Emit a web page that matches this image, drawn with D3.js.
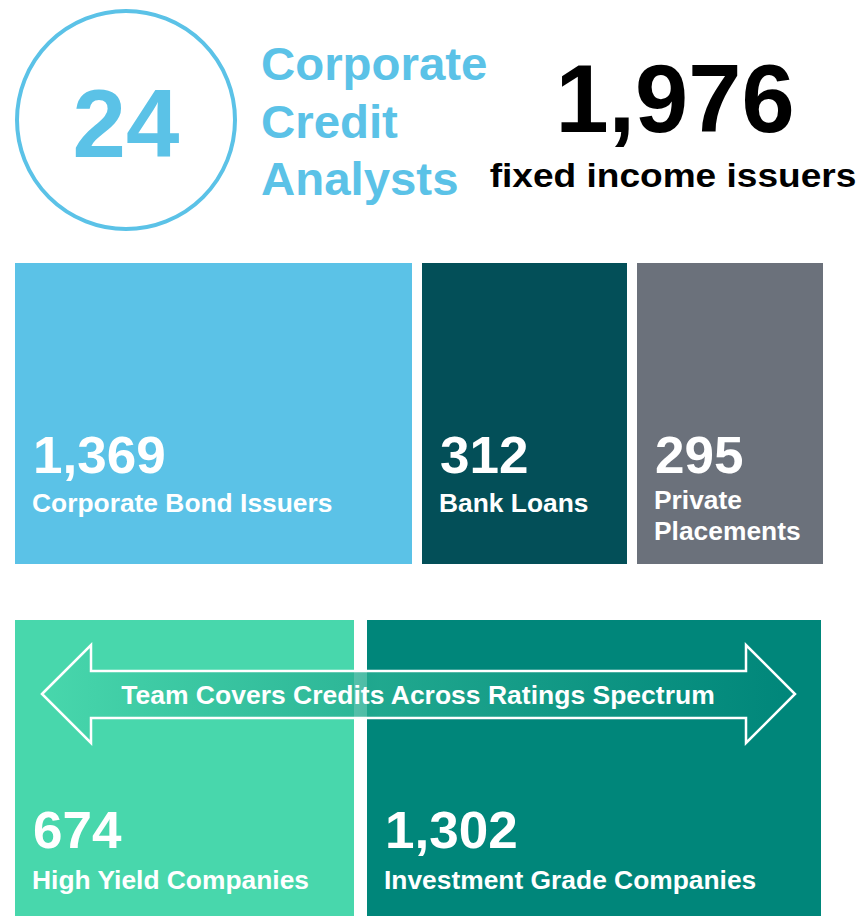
<!DOCTYPE html>
<html>
<head>
<meta charset="utf-8">
<script src="https://cdn.jsdelivr.net/npm/d3@7"></script>
<style>
  body { margin: 0; background: #fff; }
  svg { display: block; font-family: "Liberation Sans", Arial, sans-serif; font-weight: bold; }
</style>
</head>
<body>
<svg id="chart" width="861" height="916"></svg>
<script>
// Headline figures
const analystCount = 24;
const analystLabel = ["Corporate", "Credit", "Analysts"];
const totalIssuers = 1976;
const totalLabel = "fixed income issuers";

// Row 1: issuer types
const typeNames = [["Corporate Bond Issuers"], ["Bank Loans"], ["Private", "Placements"]];
const typeValues = [1369, 312, 295];
const typeColors = ["#5bc2e7", "#034f58", "#6b717b"];

// Row 2: rating split
const ratingNames = ["High Yield Companies", "Investment Grade Companies"];
const ratingValues = [674, 1302];
const ratingColors = ["#48d7ac", "#00867a"];
const arrowText = "Team Covers Credits Across Ratings Spectrum";

const fmt = d3.format(",");
const svg = d3.select("#chart");

// the original typeface is a bit wider than Liberation Sans, so stretch text horizontally
function widen(sel, k) {
    sel.each(function () {
        const w = this.getComputedTextLength();
        d3.select(this).attr("textLength", w * k).attr("lengthAdjust", "spacingAndGlyphs");
    });
}

// --- header ---------------------------------------------------------
svg.append("circle")
    .attr("cx", 126).attr("cy", 120).attr("r", 109)
    .attr("fill", "none").attr("stroke", "#5bc2e7").attr("stroke-width", 4);

svg.append("text")
    .attr("x", 126).attr("y", 157)
    .attr("text-anchor", "middle")
    .attr("font-size", 96).attr("fill", "#5bc2e7")
    .text(analystCount);

svg.append("g").selectAll("text")
    .data(analystLabel)
    .join("text")
    .attr("x", 261)
    .attr("y", (d, i) => 80 + i * 57.5)
    .attr("font-size", 46)
    .attr("fill", "#5bc2e7")
    .text(d => d)
    .call(widen, 1.03);

svg.append("text")
    .attr("x", 675).attr("y", 132)
    .attr("text-anchor", "middle")
    .attr("font-size", 97).attr("fill", "#000")
    .text(fmt(totalIssuers))
    .call(widen, 0.985);

svg.append("text")
    .attr("x", 673).attr("y", 187)
    .attr("text-anchor", "middle")
    .attr("font-size", 34).attr("fill", "#000")
    .text(totalLabel)
    .call(widen, 1.09);

// --- row 1: issuer type blocks --------------------------------------
// block widths are a layout choice (not proportional in the original)
const row1Widths = [397, 205, 186];
const row1Gap = 10;
const row1X = row1Widths.map((w, i) => 15 + d3.sum(row1Widths.slice(0, i)) + i * row1Gap);
const row1 = typeValues.map((v, i) => ({ value: v, name: typeNames[i], color: typeColors[i], x: row1X[i], w: row1Widths[i] }));

const g1 = svg.append("g").selectAll("g")
    .data(row1)
    .join("g")
    .attr("transform", d => `translate(${d.x},263)`);

g1.append("rect")
    .attr("width", d => d.w).attr("height", 301)
    .attr("fill", d => d.color);

g1.append("text")
    .attr("x", 18).attr("y", 210)
    .attr("font-size", 51).attr("fill", "#fff")
    .text(d => fmt(d.value))
    .call(widen, 1.04);

g1.each(function (d) {
    d3.select(this).selectAll("text.lbl")
        .data(d.name)
        .join("text")
        .attr("class", "lbl")
        .attr("x", 17)
        .attr("y", (t, i) => (d.name.length > 1 ? 246 : 249) + i * 31)
        .attr("font-size", 25).attr("fill", "#fff")
        .text(t => t)
        .call(widen, 1.055);
});

// --- row 2: rating blocks -------------------------------------------
const row2Widths = [339, 454];
const row2X = [15, 367];
const row2 = ratingValues.map((v, i) => ({ value: v, name: ratingNames[i], color: ratingColors[i], x: row2X[i], w: row2Widths[i] }));

const g2 = svg.append("g").selectAll("g")
    .data(row2)
    .join("g")
    .attr("transform", d => `translate(${d.x},620)`);

g2.append("rect")
    .attr("width", d => d.w).attr("height", 300)
    .attr("fill", d => d.color);

g2.append("text")
    .attr("x", 18).attr("y", 228)
    .attr("font-size", 51).attr("fill", "#fff")
    .text(d => fmt(d.value))
    .call(widen, 1.04);

g2.append("text")
    .attr("x", 17).attr("y", 269)
    .attr("font-size", 25).attr("fill", "#fff")
    .text(d => d.name)
    .call(widen, 1.055);

// --- double arrow -------------------------------------------------------
const defs = svg.append("defs");
const grad = defs.append("linearGradient").attr("id", "arrowFill");
[[0, 0], [0.15, 0.3], [0.45, 0.85], [0.75, 0.35], [1, 0]].forEach(([o, a]) => {
    grad.append("stop").attr("offset", o).attr("stop-color", "#26ae92").attr("stop-opacity", a);
});

const cy = 694, x0 = 42, x1 = 795, hb0 = 91, hb1 = 746;
const arrowPts = [
    [x0, cy], [hb0, 645], [hb0, 671], [hb1, 671], [hb1, 645], [x1, cy],
    [hb1, 743], [hb1, 718], [hb0, 718], [hb0, 743]
];
svg.append("path")
    .attr("d", d3.line()(arrowPts) + "Z")
    .attr("fill", "url(#arrowFill)")
    .attr("stroke", "#fff").attr("stroke-width", 2.5)
    .attr("stroke-linejoin", "miter");

svg.append("text")
    .attr("x", 418).attr("y", 704)
    .attr("text-anchor", "middle")
    .attr("font-size", 25).attr("fill", "#fff")
    .text(arrowText)
    .call(widen, 1.06);
</script>
</body>
</html>
